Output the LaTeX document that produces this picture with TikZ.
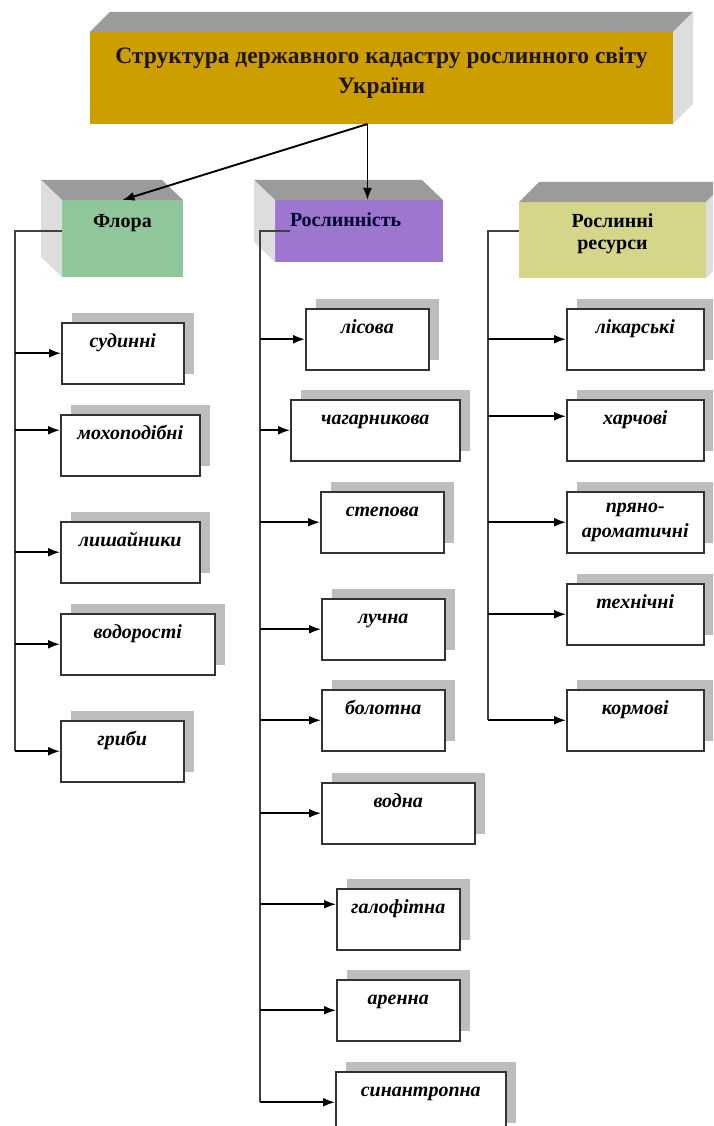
\documentclass[tikz,border=0pt]{standalone}
\usepackage{fontspec}
\setmainfont{Liberation Serif}
\usetikzlibrary{arrows.meta, shadows}

\definecolor{headgold}{HTML}{CC9E00}
\definecolor{floragreen}{HTML}{8FC79B}
\definecolor{vegviolet}{HTML}{9D76CF}
\definecolor{resolive}{HTML}{D5D68A}
\definecolor{topgrey}{HTML}{9B9B9B}
\definecolor{sidegrey}{HTML}{DDDDDD}
\definecolor{shadegrey}{HTML}{BDBDBD}
\definecolor{headink}{HTML}{1E1608}

\begin{document}
\begin{tikzpicture}[x=1pt, y=-1pt,
    face/.style={inner sep=0pt, outer sep=0pt, anchor=north west,
      font=\bfseries\fontsize{20}{24}\selectfont},
    item/.style={draw=black!80, line width=1.5pt, fill=white, minimum height=61pt,
      inner sep=0pt, anchor=north west, text height=8pt, text depth=19pt,
      font=\bfseries\itshape\fontsize{20}{22}\selectfont,
      general shadow={fill=shadegrey, shadow xshift=10pt, shadow yshift=10pt}},
    trunk/.style={draw=black!75, line width=1.4pt},
    arr/.style={-{Latex[length=12pt,width=9pt]}, line width=1.9pt}]
  \clip (0,0) rectangle (713,1126);

  % heading and the three groups
  \node[face, fill=headgold, minimum width=583pt, minimum height=92pt, align=center,
    font=\bfseries\fontsize{23.5}{30}\selectfont, text=headink]
    (head) at (90,32) {Структура державного кадастру рослинного світу\\України\rule[-16pt]{0pt}{16pt}};
  \node[face, fill=floragreen, minimum width=121pt, minimum height=77pt,
    text height=10pt, text depth=33pt] (flora) at (62,200) {Флора};
  \node[face, fill=vegviolet, minimum width=168pt, minimum height=62pt,
    text height=10pt, text depth=19pt, text width=138pt, align=left, inner xsep=15pt,
    text=black!80!blue] (veg) at (275,200) {Рослинність};
  \node[face, fill=resolive, minimum width=187pt, minimum height=76pt, align=center,
    font=\bfseries\fontsize{20}{22}\selectfont]
    (res) at (519,202) {Рослинні\\ресурси\rule[-16pt]{0pt}{16pt}};

  \foreach \n in {flora, veg} {
    \fill[topgrey] (\n.north west) -- ++(-21,-20) -- ([shift={(-21,-20)}]\n.north east) -- (\n.north east) -- cycle;
    \fill[sidegrey] (\n.north west) -- ++(-21,-20) -- ([shift={(-21,-20)}]\n.south west) -- (\n.south west) -- cycle;
  }
  \foreach \n in {head, res} {
    \fill[topgrey] (\n.north west) -- ++(20,-20) -- ([shift={(20,-20)}]\n.north east) -- (\n.north east) -- cycle;
    \fill[sidegrey] (\n.north east) -- ++(20,-20) -- ([shift={(20,-20)}]\n.south east) -- (\n.south east) -- cycle;
  }

  % flora
  \node[item, minimum width=122pt] (sud) at (61,322) {судинні};
  \node[item, minimum width=139pt] (moss) at (60,414) {мохоподібні};
  \node[item, minimum width=139pt] (lish) at (60,521) {лишайники};
  \node[item, minimum width=154pt] (vodor) at (60,613) {водорості};
  \node[item, minimum width=123pt] (grib) at (60,720) {гриби};

  % vegetation
  \node[item, minimum width=123pt] (lis) at (305,308) {лісова};
  \node[item, minimum width=169pt] (chag) at (290,399) {чагарникова};
  \node[item, minimum width=123pt] (step) at (320,491) {степова};
  \node[item, minimum width=123pt] (luch) at (321,598) {лучна};
  \node[item, minimum width=123pt] (bol) at (321,689) {болотна};
  \node[item, minimum width=153pt] (vodna) at (321,782) {водна};
  \node[item, minimum width=123pt] (halo) at (336,888) {галофітна};
  \node[item, minimum width=123pt] (aren) at (336,979) {аренна};
  \node[item, minimum width=170pt] (synan) at (335,1071) {синантропна};

  % resources
  \node[item, minimum width=137pt] (likar) at (566,308) {лікарські};
  \node[item, minimum width=137pt] (harch) at (566,399) {харчові};
  \node[item, minimum width=137pt, text height=, text depth=, align=center,
    font=\bfseries\itshape\fontsize{20}{25}\selectfont] (pryan) at (566,491) {пряно-\\ароматичні};
  \node[item, minimum width=137pt] (tehn) at (566,583) {технічні};
  \node[item, minimum width=137pt] (korm) at (566,689) {кормові};

  % connectors
  \coordinate (fork) at ([xshift=-14pt]head.south);
  \draw[arr] (fork) -- (flora.north);
  \draw[arr] (fork) -- (fork |- veg.north);

  \coordinate (ftop) at (15,231);
  \coordinate (vtop) at (260,231);
  \coordinate (rtop) at (488,231);
  \draw[trunk] (flora.west |- ftop) -- (ftop) -- (ftop |- grib.west);
  \draw[trunk] ([xshift=15pt]veg.west) -- (vtop) -- (vtop |- synan.west);
  \draw[trunk] (res.west |- rtop) -- (rtop) -- (rtop |- korm.west);

  \foreach \n/\s in {sud/0, moss/15, lish/0, vodor/0, grib/0} {
    \coordinate (tip) at ([yshift=\s pt]\n.west);
    \draw[arr] (ftop |- tip) -- (tip);
  }
  \foreach \n/\s in {lis/0, chag/0, step/0, luch/0, bol/0, vodna/0, halo/15, aren/0, synan/0} {
    \coordinate (tip) at ([yshift=\s pt]\n.west);
    \draw[arr] (vtop |- tip) -- (tip);
  }
  \foreach \n/\s in {likar/0, harch/14, pryan/0, tehn/0, korm/0} {
    \coordinate (tip) at ([yshift=\s pt]\n.west);
    \draw[arr] (rtop |- tip) -- (tip);
  }
\end{tikzpicture}
\end{document}
